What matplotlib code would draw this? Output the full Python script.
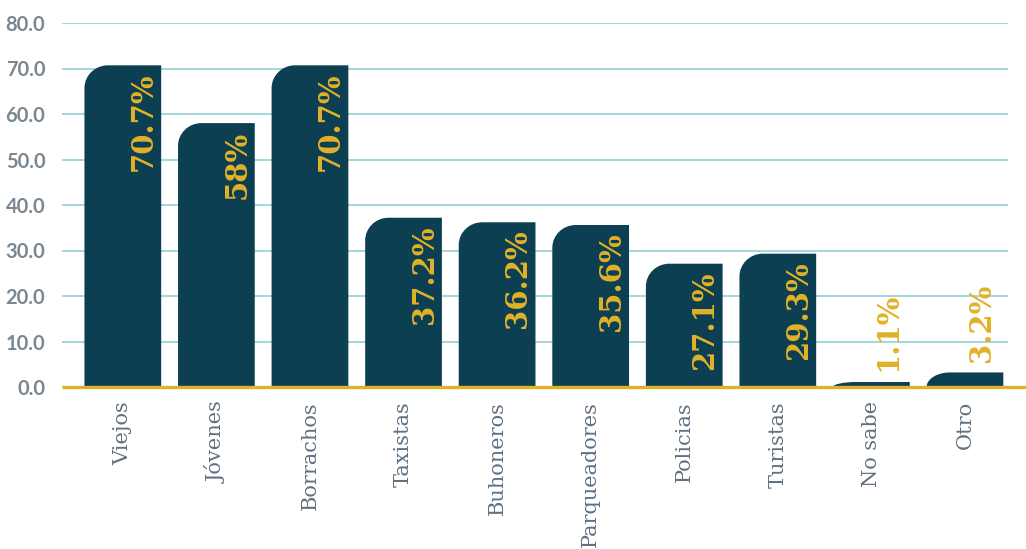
import matplotlib

matplotlib.use("Agg")
import matplotlib.pyplot as plt
from matplotlib.patches import PathPatch
from matplotlib.path import Path

categories = ["Viejos", "Jóvenes", "Borrachos", "Taxistas", "Buhoneros",
              "Parqueadores", "Policias", "Turistas", "No sabe", "Otro"]
values = [70.7, 58, 70.7, 37.2, 36.2, 35.6, 27.1, 29.3, 1.1, 3.2]
value_labels = ["70.7%", "58%", "70.7%", "37.2%", "36.2%",
                "35.6%", "27.1%", "29.3%", "1.1%", "3.2%"]
yticks = [0, 10, 20, 30, 40, 50, 60, 70, 80]

NAVY = "#0c3f52"
GOLD = "#e2b128"
GRID = "#9dd3d8"
TICK_GREY = "#7a8791"
LABEL_GREY = "#5f7182"


def rounded_top_left(x0, w, h, rx, ry):
    """Bar outline with only the top-left corner rounded."""
    ry = min(ry, h)
    rx = min(rx, w / 2)
    k = 0.5523
    verts = [
        (x0, 0), (x0 + w, 0), (x0 + w, h), (x0 + rx, h),
        (x0 + rx - k * rx, h), (x0, h - ry + k * ry), (x0, h - ry),
        (x0, 0), (x0, 0),
    ]
    codes = [Path.MOVETO, Path.LINETO, Path.LINETO, Path.LINETO,
             Path.CURVE4, Path.CURVE4, Path.CURVE4,
             Path.LINETO, Path.CLOSEPOLY]
    return Path(verts, codes)


fig = plt.figure(figsize=(10.26, 5.49), dpi=100)
ax = fig.add_axes([62 / 1026, 162 / 549, 946 / 1026, 364 / 549])

x = list(range(len(categories)))
bars = ax.bar(x, values, width=0.82, color=NAVY, zorder=2)

# swap each plain rectangle for one with a rounded top-left corner
for rect in bars:
    path = rounded_top_left(rect.get_x(), rect.get_width(), rect.get_height(),
                            0.25, 5.0)
    ax.add_patch(PathPatch(path, facecolor=NAVY, edgecolor="none", zorder=2))
    rect.set_visible(False)

for xi, v, lab in zip(x, values, value_labels):
    if v >= 10:
        ax.text(xi + 0.22, v - 1.6, lab, rotation=90, ha="center", va="top",
                color=GOLD, fontsize=21, fontweight="bold",
                family="DejaVu Serif", zorder=3)
    else:
        ax.text(xi + 0.18, v + 2.4, lab, rotation=90, ha="center",
                va="bottom", color=GOLD, fontsize=21, fontweight="bold",
                family="DejaVu Serif", zorder=3)

ax.set_xlim(-0.65, len(categories) - 1 + 0.46)
ax.set_ylim(0, 80)
ax.set_yticks(yticks)
ax.set_yticklabels([f"{t:.1f}" for t in yticks], fontsize=14.5,
                   fontweight="bold", family="Lato", color=TICK_GREY)
ax.set_xticks(x)
ax.set_xticklabels(categories, rotation=90, fontsize=15,
                   family="DejaVu Serif", color=LABEL_GREY)
ax.tick_params(axis="both", length=0)
ax.tick_params(axis="y", pad=12)
ax.tick_params(axis="x", pad=10)

ax.grid(axis="y", color=GRID, linewidth=1.3, zorder=0)
ax.set_axisbelow(True)
for side in ["top", "right", "left", "bottom"]:
    ax.spines[side].set_visible(False)

# gold baseline running past the plot edge
ax.plot([0, 1.02], [0, 0], transform=ax.get_yaxis_transform(),
        color=GOLD, linewidth=2.4, clip_on=False, zorder=4,
        solid_capstyle="butt")

fig.savefig("out.png", dpi=100)
